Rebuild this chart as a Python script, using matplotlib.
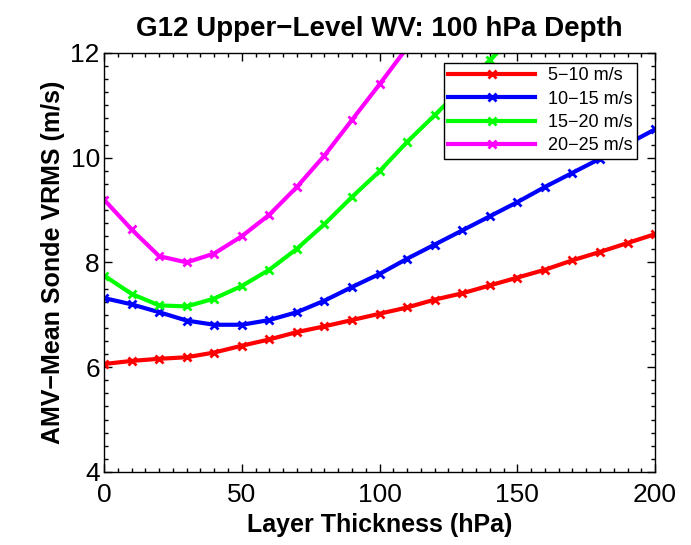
import matplotlib.pyplot as plt
from matplotlib.ticker import MultipleLocator

plt.rcParams['font.family'] = ['Liberation Sans', 'DejaVu Sans']

# data
thickness = [0, 10, 20, 30, 40, 50, 60, 70, 80, 90, 100,
             110, 120, 130, 140, 150, 160, 170, 180, 190, 200]
rms_5_10 = [6.06, 6.12, 6.16, 6.19, 6.28, 6.41, 6.53, 6.67, 6.78, 6.90, 7.02,
            7.14, 7.29, 7.41, 7.56, 7.71, 7.86, 8.04, 8.20, 8.37, 8.54]
rms_10_15 = [7.32, 7.20, 7.05, 6.89, 6.81, 6.81, 6.90, 7.05, 7.27, 7.53, 7.78,
             8.07, 8.34, 8.61, 8.88, 9.15, 9.44, 9.71, 9.98, 10.26, 10.54]
rms_15_20 = [7.75, 7.40, 7.18, 7.16, 7.31, 7.55, 7.86, 8.26, 8.73, 9.25, 9.74,
             10.30, 10.81, 11.33, 11.86, 12.38]
rms_20_25 = [9.20, 8.63, 8.12, 8.00, 8.17, 8.50, 8.91, 9.44, 10.04, 10.72, 11.40,
             12.10]
labels = ["5\u221210 m/s", "10\u221215 m/s", "15\u221220 m/s", "20\u221225 m/s"]
colors = ["#ff0000", "#0000ff", "#00ff00", "#ff00ff"]

fig = plt.figure(figsize=(6.91, 5.45), dpi=100)
ax = fig.add_axes([0.1505, 0.134, 0.7975, 0.769])

for ys, lab, c in zip([rms_5_10, rms_10_15, rms_15_20, rms_20_25], labels, colors):
    ax.plot(thickness[:len(ys)], ys, color=c, lw=3, marker="x", ms=6, mew=2, label=lab)

ax.set_xlim(0, 200)
ax.set_ylim(4, 12)
ax.set_xticks([0, 50, 100, 150, 200])
ax.set_yticks([4, 6, 8, 10, 12])
ax.xaxis.set_minor_locator(MultipleLocator(5))
ax.yaxis.set_minor_locator(MultipleLocator(0.25))
ax.tick_params(which="both", direction="in", top=True, right=True, labelsize=19)
ax.tick_params(axis="x", pad=8)
ax.tick_params(axis="y", pad=3)
ax.tick_params(which="major", length=6, width=1)
ax.tick_params(which="minor", length=3, width=1)
for s in ax.spines.values():
    s.set_linewidth(1)

ax.set_xlabel("Layer Thickness (hPa)", fontsize=18, fontweight="bold", labelpad=4)
ax.set_ylabel("AMV\u2212Mean Sonde VRMS (m/s)", fontsize=18, fontweight="bold", labelpad=4)
ax.set_title("G12 Upper\u2212Level WV: 100 hPa Depth", fontsize=20, fontweight="bold", pad=12)

leg = ax.legend(loc="upper right", bbox_to_anchor=(0.967, 0.976), fontsize=13,
                fancybox=False, framealpha=1, edgecolor="black", handlelength=4.8,
                borderpad=0.25, labelspacing=0.35, handletextpad=0.7, borderaxespad=0)
leg.get_frame().set_linewidth(1)

plt.savefig("out.png", dpi=100)
